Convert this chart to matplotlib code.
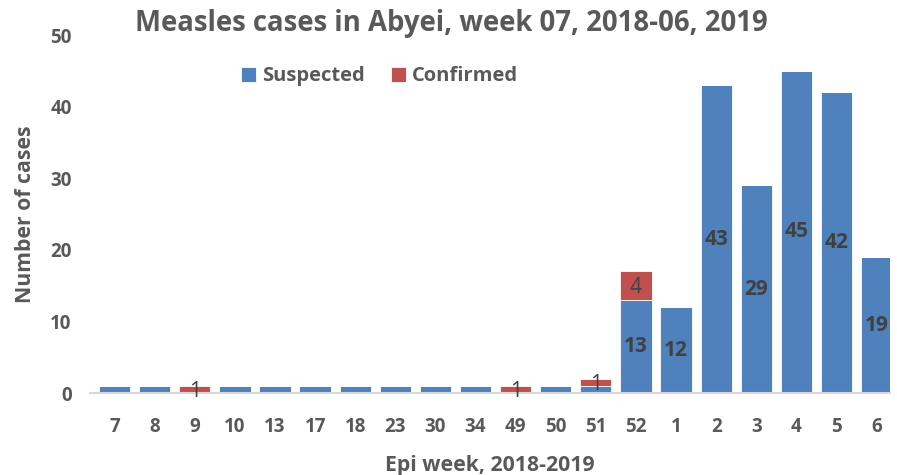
import numpy as np
import matplotlib.pyplot as plt

plt.rcParams['font.family'] = ['Open Sans', 'DejaVu Sans']
plt.rcParams['font.weight'] = 'bold'

weeks = ['7', '8', '9', '10', '13', '17', '18', '23', '30', '34', '49', '50',
         '51', '52', '1', '2', '3', '4', '5', '6']
suspected = [1, 1, 0, 1, 1, 1, 1, 1, 1, 1, 0, 1, 1, 13, 12, 43, 29, 45, 42, 19]
confirmed = [0, 0, 1, 0, 0, 0, 0, 0, 0, 0, 1, 0, 1, 4, 0, 0, 0, 0, 0, 0]

blue = '#4F81BD'
red = '#C0504D'
grey = '#595959'

fig = plt.figure(figsize=(8.97, 4.75), dpi=100)
ax = fig.add_axes([0.100, 0.1726, 0.892, 0.7534])

x = np.arange(len(weeks))
ax.bar(x, suspected, width=0.78, color=blue, edgecolor='white', linewidth=0.6, label='Suspected')
ax.bar(x, confirmed, width=0.78, bottom=suspected, color=red, edgecolor='white', linewidth=0.6, label='Confirmed')

for i in range(len(weeks)):
    if suspected[i] >= 10:
        ax.text(x[i], suspected[i] / 2, str(suspected[i]), ha='center', va='center',
                fontsize=15, fontweight='bold', color='#404040')
    if confirmed[i] > 0:
        ax.text(x[i], suspected[i] + confirmed[i] / 2 - 0.3, str(confirmed[i]), ha='center', va='center',
                fontsize=15, fontweight='normal', color='#404040')

ax.set_xlim(-0.62, len(weeks) - 0.67)
ax.set_ylim(0, 50)
ax.set_yticks([0, 10, 20, 30, 40, 50])
ax.set_xticks(x)
ax.set_xticklabels(weeks, fontweight='bold')
ax.set_yticklabels(['0', '10', '20', '30', '40', '50'], fontweight='bold')
for s in ['top', 'right', 'left']:
    ax.spines[s].set_visible(False)
ax.spines['bottom'].set_color('#D9D9D9')
ax.spines['bottom'].set_linewidth(1.5)
ax.tick_params(axis='both', length=0, labelsize=13.5, labelcolor=grey)
ax.tick_params(axis='x', pad=17)
ax.tick_params(axis='y', pad=13)

ax.set_ylabel('Number of cases', fontsize=15.3, fontweight='bold', color=grey, labelpad=10)
ax.set_xlabel('Epi week, 2018-2019', fontsize=15.3, fontweight='bold', color=grey, labelpad=13)
fig.text(0.503, 0.95, 'Measles cases in Abyei, week 07, 2018-06, 2019', ha='center', va='center',
         fontsize=19.8, fontweight='bold', color=grey)

ax.legend(loc='center', bbox_to_anchor=(0.3625, 0.885), ncol=2, frameon=False,
          handlelength=0.75, handleheight=0.75, handletextpad=0.3, columnspacing=1.3,
          labelcolor=grey, prop={'weight': 'bold', 'size': 14.5})

fig.savefig('out.png', dpi=100)
